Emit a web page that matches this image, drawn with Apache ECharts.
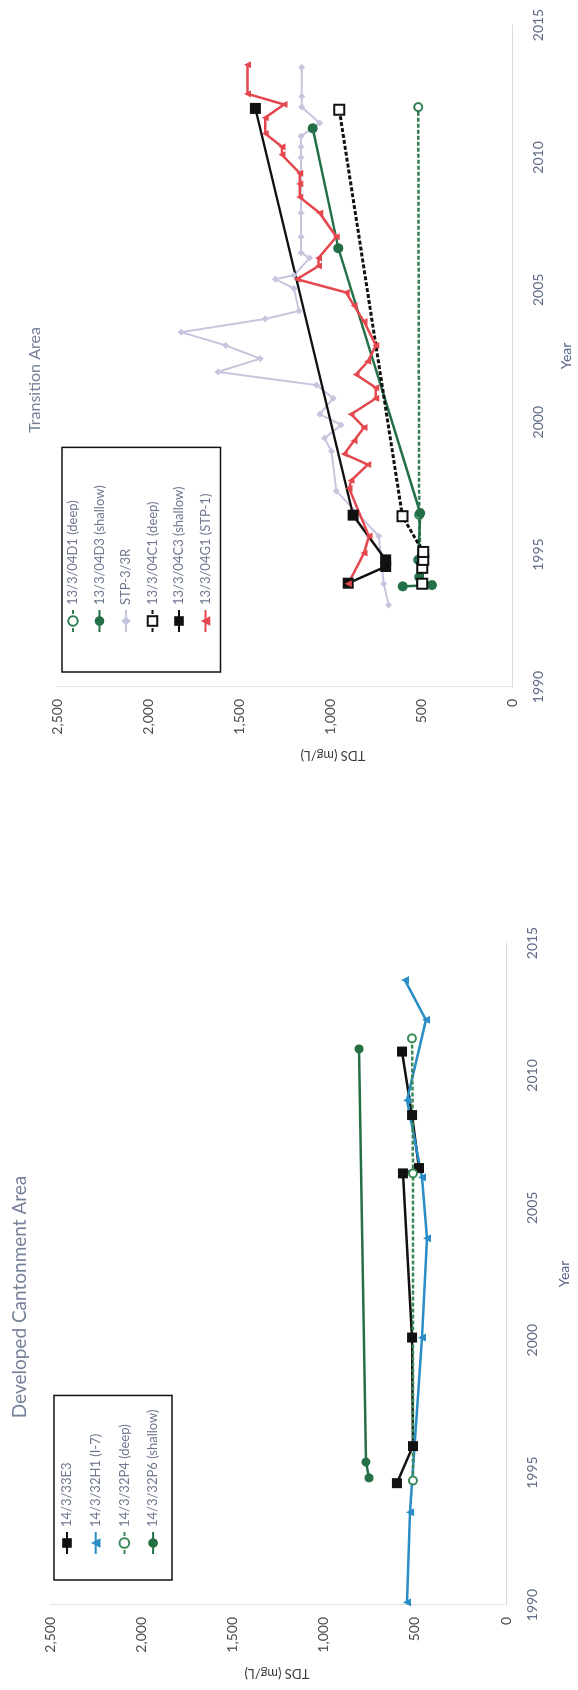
<!DOCTYPE html>
<html>
<head>
<meta charset="utf-8">
<title>TDS trends</title>
<script src="https://cdn.jsdelivr.net/npm/echarts@6/dist/echarts.min.js"></script>
<style>
html,body{margin:0;padding:0;background:#fff;}
body{width:578px;height:1690px;position:relative;overflow:hidden;}
.chart{position:absolute;left:0;height:578px;transform-origin:0 0;}
/* the scanned figure is turned a quarter turn, so each chart is drawn upright and rotated */
#top{top:0;width:800px;transform:translate(0,800px) rotate(-90deg);}
#bottom{top:840px;width:850px;transform:translate(0,850px) rotate(-90deg);}
</style>
</head>
<body>
<div id="top" class="chart"></div>
<div id="bottom" class="chart"></div>
<script>
// ---- Transition Area ----
var d1Year = [1993.9, 1996.5, 2011.9];
var d1Tds  = [500, 510, 515];
var d3Year = [1993.8, 1993.85, 1994.15, 1994.8, 1996.57, 2006.57, 2011.1];
var d3Tds  = [600, 440, 510, 515, 504, 954, 1095];
var stpYear = [1993.1, 1993.9, 1995.7, 1997.4, 1998.9, 1999.4, 1999.9, 2000.3, 2000.9, 2001.4, 2001.9, 2002.4, 2002.9, 2003.4, 2003.9, 2004.2, 2005.05, 2005.4, 2005.55, 2006.2, 2006.4, 2007.0, 2007.9, 2010.0, 2010.4, 2010.8, 2011.3, 2011.9, 2012.3, 2013.4];
var stpTds  = [678, 705, 732, 965, 992, 1030, 938, 1057, 982, 1074, 1616, 1383, 1573, 1817, 1356, 1171, 1198, 1300, 1198, 1112, 1160, 1160, 1160, 1160, 1160, 1160, 1057, 1155, 1155, 1155];
var c1Year = [1993.9, 1994.5, 1994.8, 1995.1, 1996.45, 2011.8];
var c1Tds  = [493, 493, 488, 488, 602, 949];
var c3Year = [1993.92, 1994.55, 1994.8, 1996.49, 2011.85];
var c3Tds  = [900, 694, 694, 873, 1410];
var g1Year = [1993.9, 1995.06, 1995.7, 1997.5, 1997.8, 1998.4, 1998.8, 1999.3, 1999.8, 2000.3, 2000.9, 2001.3, 2001.8, 2002.3, 2002.9, 2003.8, 2004.4, 2004.9, 2005.4, 2005.9, 2006.2, 2007.0, 2007.9, 2008.5, 2009.0, 2009.4, 2010.1, 2010.4, 2010.9, 2011.5, 2012.0, 2012.4, 2013.5];
var g1Tds  = [900, 813, 786, 895, 884, 792, 922, 868, 813, 884, 748, 748, 857, 792, 748, 813, 868, 911, 1182, 1063, 1063, 965, 1057, 1166, 1166, 1166, 1264, 1264, 1356, 1356, 1253, 1453, 1453];

// ---- Developed Cantonment Area ----
var e3Year = [1994.6, 1996.0, 2000.1, 2006.3, 2006.5, 2008.5, 2010.9];
var e3Tds  = [598, 510, 515, 565, 477, 515, 570];
var h1Year = [1990.1, 1993.5, 2000.1, 2003.85, 2006.15, 2009.06, 2012.1, 2013.6];
var h1Tds  = [543, 526, 461, 433, 461, 543, 439, 554];
var p4Year = [1994.7, 2006.3, 2011.4];
var p4Tds  = [510, 510, 515];
var p6Year = [1994.8, 1995.4, 2011.0];
var p6Tds  = [751, 768, 806];

var yearTicks = [1990, 1995, 2000, 2005, 2010, 2015];
var tdsTicks = [0, 500, 1000, 1500, 2000, 2500];

var FONT = 'Lato, "Open Sans", sans-serif';

function pairs(xs, ys) {
    return xs.map(function (x, i) { return [x, ys[i]]; });
}

function line(name, data, color, symbol, size, dashed, width) {
    return {
        name: name,
        type: 'line',
        data: data,
        symbol: symbol,
        symbolSize: size,
        lineStyle: {color: color, width: width, type: dashed ? [4, 2] : 'solid'},
        itemStyle: {color: color, borderColor: color, borderWidth: symbol.indexOf('empty') === 0 ? 1.8 : 0}
    };
}

function makeOption(c) {
    return {
        animation: false,
        backgroundColor: '#fff',
        textStyle: {fontFamily: FONT},
        grid: c.grid,
        legend: {
            orient: 'vertical',
            left: c.legend.left,
            top: c.legend.top,
            padding: c.legend.padding,
            itemGap: c.legend.gap,
            itemWidth: 22,
            itemHeight: 12,
            borderColor: '#111',
            borderWidth: 1.5,
            textStyle: {color: '#6f7890', fontSize: 13, lineHeight: 14, fontFamily: FONT}
        },
        xAxis: {
            type: 'value',
            min: yearTicks[0],
            max: yearTicks[yearTicks.length - 1],
            interval: 5,
            name: 'Year',
            nameLocation: 'middle',
            nameGap: c.yearGap,
            nameTextStyle: {color: '#56648a', fontSize: 14, fontFamily: FONT},
            axisLabel: {formatter: function (v) { return String(v); }, color: '#5f6b85', fontSize: 14, margin: c.yearMargin, fontFamily: FONT},
            axisLine: {lineStyle: {color: '#d9d9d9'}},
            axisTick: {show: false},
            splitLine: {show: false}
        },
        yAxis: {
            type: 'value',
            min: tdsTicks[0],
            max: tdsTicks[tdsTicks.length - 1],
            interval: 500,
            axisLabel: {formatter: function (v) { return v.toLocaleString('en-US'); }, color: '#4d4d4d', fontSize: 14, margin: 12, fontFamily: FONT},
            axisLine: {show: true, lineStyle: {color: '#e3e3e3'}},
            axisTick: {show: false},
            splitLine: {show: false}
        },
        graphic: [
            {type: 'text', x: c.title.x, y: c.title.y, style: {text: c.title.text, fill: '#76819a', font: c.title.size + 'px ' + FONT, align: 'center', verticalAlign: 'middle', textAlign: 'center', textVerticalAlign: 'middle'}},
            {type: 'text', x: c.tdsName.x, y: c.tdsName.y, rotation: Math.PI / 2, style: {text: 'TDS (mg/L)', fill: '#3c3c3c', font: '13px ' + FONT, align: 'center', verticalAlign: 'middle', textAlign: 'center', textVerticalAlign: 'middle'}}
        ],
        series: c.series
    };
}

var topChart = echarts.init(document.getElementById('top'));
topChart.setOption(makeOption({
    grid: {left: 113, right: 25, top: 57, bottom: 60},
    legend: {left: 128, top: 62, padding: [4, 38, 8, 39], gap: 12.5},
    yearGap: 47,
    yearMargin: 19,
    title: {text: 'Transition Area', x: 420, y: 35, size: 16},
    tdsName: {x: 45, y: 333},
    series: [
        line('13/3/04D1 (deep)', pairs(d1Year, d1Tds), '#2f7d50', 'emptyCircle', 8, true, 2.5),
        line('13/3/04D3 (shallow)', pairs(d3Year, d3Tds), '#237048', 'circle', 10, false, 2.5),
        line('STP-3/3R', pairs(stpYear, stpTds), '#c5c6de', 'diamond', 7, false, 2),
        line('13/3/04C1 (deep)', pairs(c1Year, c1Tds), '#111111', 'emptyRect', 10, true, 3),
        line('13/3/04C3 (shallow)', pairs(c3Year, c3Tds), '#111111', 'rect', 11, false, 2.5),
        line('13/3/04G1 (STP-1)', pairs(g1Year, g1Tds), '#e5474f', 'triangle', 7, false, 2.5)
    ]
}));

var bottomChart = echarts.init(document.getElementById('bottom'));
bottomChart.setOption(makeOption({
    grid: {left: 85, right: 103, top: 50, bottom: 72},
    legend: {left: 110, top: 54, padding: [6, 14, 12, 25], gap: 14.7},
    yearGap: 51,
    yearMargin: 19,
    title: {text: 'Developed Cantonment Area', x: 393, y: 20, size: 19},
    tdsName: {x: 17, y: 277},
    series: [
        line('14/3/33E3', pairs(e3Year, e3Tds), '#111111', 'rect', 10, false, 2.5),
        line('14/3/32H1 (I-7)', pairs(h1Year, h1Tds), '#2a8dc5', 'triangle', 8, false, 2.5),
        line('14/3/32P4 (deep)', pairs(p4Year, p4Tds), '#3a8858', 'emptyCircle', 8, true, 2.5),
        line('14/3/32P6 (shallow)', pairs(p6Year, p6Tds), '#256f44', 'circle', 9, false, 2.5)
    ]
}));
</script>
</body>
</html>
